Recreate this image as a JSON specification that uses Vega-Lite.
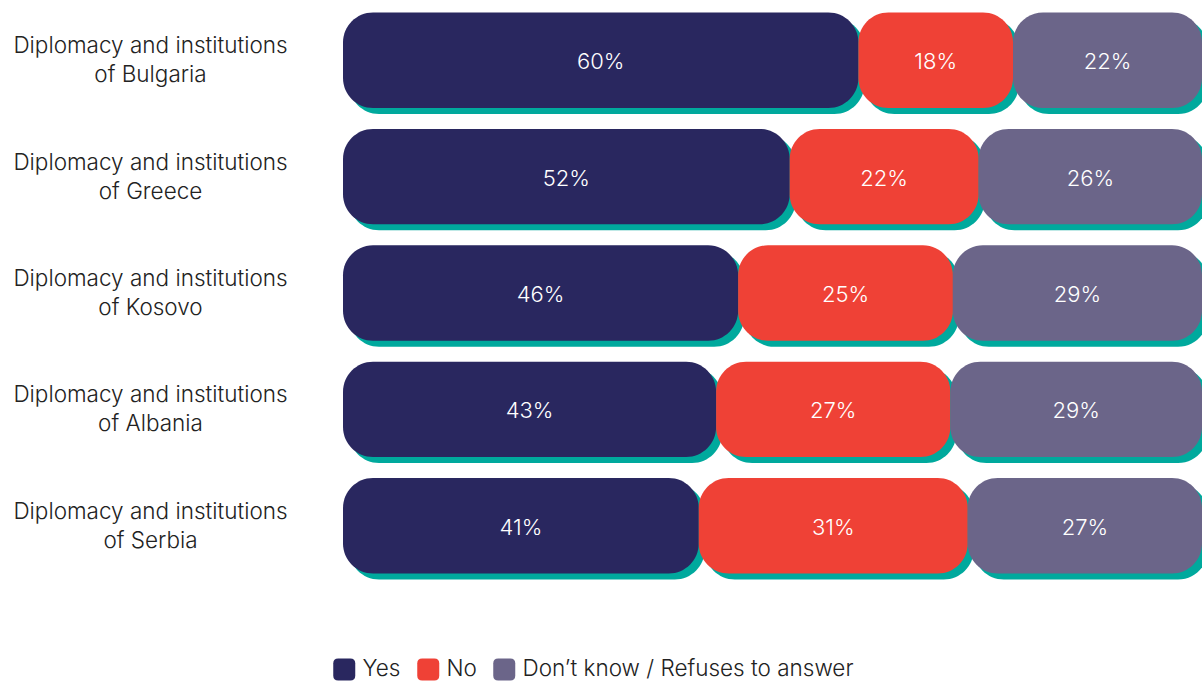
{
  "$schema": "https://vega.github.io/schema/vega-lite/v6.json",
  "width": 859,
  "height": 582,
  "autosize": {"type": "none"},
  "padding": {"left": 343, "top": 2, "right": 0, "bottom": 98},
  "background": "white",
  "config": {"view": {"stroke": null}, "font": "Inter"},
  "data": {"values": [
    {"country": "Bulgaria", "answer": "Yes", "value": 0.60, "idx": 1},
    {"country": "Bulgaria", "answer": "No", "value": 0.18, "idx": 2},
    {"country": "Bulgaria", "answer": "Don’t know / Refuses to answer", "value": 0.22, "idx": 3},
    {"country": "Greece", "answer": "Yes", "value": 0.52, "idx": 1},
    {"country": "Greece", "answer": "No", "value": 0.22, "idx": 2},
    {"country": "Greece", "answer": "Don’t know / Refuses to answer", "value": 0.26, "idx": 3},
    {"country": "Kosovo", "answer": "Yes", "value": 0.46, "idx": 1},
    {"country": "Kosovo", "answer": "No", "value": 0.25, "idx": 2},
    {"country": "Kosovo", "answer": "Don’t know / Refuses to answer", "value": 0.29, "idx": 3},
    {"country": "Albania", "answer": "Yes", "value": 0.43, "idx": 1},
    {"country": "Albania", "answer": "No", "value": 0.27, "idx": 2},
    {"country": "Albania", "answer": "Don’t know / Refuses to answer", "value": 0.29, "idx": 3},
    {"country": "Serbia", "answer": "Yes", "value": 0.41, "idx": 1},
    {"country": "Serbia", "answer": "No", "value": 0.31, "idx": 2},
    {"country": "Serbia", "answer": "Don’t know / Refuses to answer", "value": 0.27, "idx": 3}
  ]},
  "encoding": {
    "y": {
      "field": "country", "type": "nominal",
      "sort": ["Bulgaria", "Greece", "Kosovo", "Albania", "Serbia"],
      "scale": {"paddingInner": 0.18, "paddingOuter": 0.09},
      "axis": {
        "title": null, "domain": false, "ticks": false,
        "labelAlign": "center", "labelBaseline": "middle", "labelPadding": 193,
        "labelOffset": -14,
        "labelFontSize": 22.5, "labelLineHeight": 29, "labelColor": "#222222",
        "labelFont": "Inter", "labelFontWeight": 300, "labelLimit": 400,
        "labelExpr": "['Diplomacy and institutions', 'of ' + datum.label]"
      }
    }
  },
  "layer": [
    {
      "transform": [{"stack": "value", "groupby": ["country"], "sort": [{"field": "idx", "order": "ascending"}], "offset": "normalize", "as": ["x0", "x1"]}],
      "mark": {"type": "bar", "color": "#00A99D", "cornerRadius": 30, "xOffset": 6, "x2Offset": 6, "yOffset": 6, "y2Offset": 6},
      "encoding": {
        "x": {"field": "x0", "type": "quantitative", "scale": {"domain": [0, 1]}, "axis": null},
        "x2": {"field": "x1"}
      }
    },
    {
      "transform": [{"stack": "value", "groupby": ["country"], "sort": [{"field": "idx", "order": "ascending"}], "offset": "normalize", "as": ["x0", "x1"]}],
      "mark": {"type": "bar", "cornerRadius": 30},
      "encoding": {
        "x": {"field": "x0", "type": "quantitative", "axis": null},
        "x2": {"field": "x1"},
        "color": {
          "field": "answer", "type": "nominal",
          "scale": {"domain": ["Yes", "No", "Don’t know / Refuses to answer"], "range": ["#29275F", "#EF4136", "#6B6589"]},
          "legend": {
            "orient": "none", "legendX": -10, "legendY": 656, "direction": "horizontal", "title": null,
            "symbolType": "M-0.55,-1 H0.55 Q1,-1 1,-0.55 V0.55 Q1,1 0.55,1 H-0.55 Q-1,1 -1,0.55 V-0.55 Q-1,-1 -0.55,-1 Z",
            "symbolSize": 484, "symbolStrokeWidth": 0, "labelFontSize": 22.5, "labelColor": "#222222",
            "labelFont": "Inter", "labelFontWeight": 300, "columnPadding": 16, "labelOffset": 7, "labelLimit": 500
          }
        }
      }
    },
    {
      "mark": {"type": "text", "color": "white", "fontSize": 22, "font": "Inter", "fontWeight": 300, "baseline": "middle", "dy": 2},
      "encoding": {
        "x": {"field": "value", "type": "quantitative", "stack": "normalize", "bandPosition": 0.5},
        "detail": {"field": "answer"},
        "order": {"field": "idx"},
        "text": {"field": "value", "type": "quantitative", "format": ".0%"}
      }
    }
  ]
}
